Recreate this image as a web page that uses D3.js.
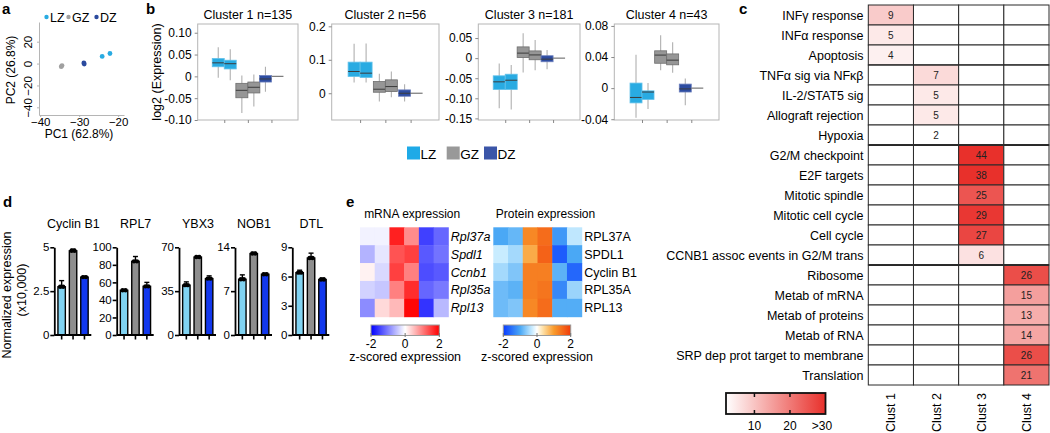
<!DOCTYPE html>
<html><head><meta charset="utf-8">
<script src="https://cdn.jsdelivr.net/npm/d3@7"></script>
<style>body{margin:0;background:#fff}svg{display:block;font-family:"Liberation Sans",Arial,sans-serif}</style>
</head><body><svg id="fig" width="1050" height="433"></svg>
<script>
// ---------------- DATA ----------------
// panel a (PCA)
const pcaZone = ["LZ","LZ","GZ","GZ","DZ","DZ"];
const pcaPC1 = [-24.1,-22.1,-34.6,-34.4,-28.8,-28.7];
const pcaPC2 = [6.5,9.2,-2.8,-1.8,0.6,-0.4];
const pcaXTicks = [-40,-30,-20];
const pcaYTicks = [-40,-20,0,20];

// panel b (box plots) -- [min,q1,median,q3,max] for LZ1,LZ2,GZ1,GZ2,DZ1,DZ2
const zones = ["LZ","GZ","DZ"];
const clusterTitles = ["Cluster 1 n=135","Cluster 2 n=56","Cluster 3 n=181","Cluster 4 n=43"];
const cluster1Boxes = [[-0.003,0.022,0.031,0.041,0.067],[-0.009,0.017,0.029,0.037,0.062],[-0.084,-0.049,-0.032,-0.016,0.002],[-0.069,-0.038,-0.025,-0.013,0.004],[-0.035,-0.013,-0.006,0.002,0.022],[0,0,0,0,0]];
const cluster2Boxes = [[0.032,0.050,0.065,0.093,0.148],[0.032,0.047,0.060,0.093,0.149],[-0.025,0.003,0.012,0.035,0.058],[-0.012,0.005,0.020,0.040,0.065],[-0.025,-0.009,0.0,0.010,0.027],[0,0,0,0,0]];
const cluster3Boxes = [[-0.125,-0.078,-0.059,-0.044,-0.0135],[-0.128,-0.078,-0.055,-0.040,-0.017],[-0.036,0.0015,0.0125,0.028,0.062],[-0.030,-0.004,0.008,0.018,0.045],[-0.0275,-0.009,-0.0025,0.006,0.020],[0,0,0,0,0]];
const cluster4Boxes = [[-0.038,-0.019,-0.012,0.0065,0.043],[-0.027,-0.0145,-0.005,-0.0035,0.0065],[0.023,0.032,0.0425,0.048,0.068],[0.0197,0.030,0.036,0.044,0.059],[-0.022,-0.005,-0.001,0.0052,0.0123],[0,0,0,0,0]];
const clusterDomains = [[-0.10,0.12],[-0.08,0.207],[-0.154,0.085],[-0.041,0.0825]];
const clusterTicks = [[-0.10,-0.05,0,0.05,0.10],[0,0.1,0.2],[-0.15,-0.10,-0.05,0,0.05],[-0.04,0,0.04,0.08]];
const clusterTickLabels = [["-0.10","-0.05","0","0.05","0.10"],["0","0.1","0.2"],["-0.15","-0.10","-0.05","0","0.05"],["-0.04","0","0.04","0.08"]];

// panel c (enrichment heatmap)
const pathways = ["INF\u03b3 response","INF\u03b1 response","Apoptosis","TNF\u03b1 sig via NF\u03ba\u03b2","IL-2/STAT5 sig","Allograft rejection","Hypoxia","G2/M checkpoint","E2F targets","Mitotic spindle","Mitotic cell cycle","Cell cycle","CCNB1 assoc events in G2/M trans","Ribosome","Metab of mRNA","Metab of proteins","Metab of RNA","SRP dep prot target to membrane","Translation"];
const pathwayCluster = [1,1,1,2,2,2,2,3,3,3,3,3,3,4,4,4,4,4,4];
const pathwayCount = [9,5,4,7,5,5,2,44,38,25,29,27,6,26,15,13,14,26,21];
const clustLabels = ["Clust 1","Clust 2","Clust 3","Clust 4"];
const countTicks = [10,20,30];
const countTickLabels = ["10","20",">30"];

// panel d (bar charts)
const genes = ["Cyclin B1","RPL7","YBX3","NOB1","DTL"];
const geneTicks = [[0,2.5,5],[0,20,40,60,80,100],[0,35,70],[0,7,14],[0,3,6,9]];
const lzMean = [2.75,51,39.8,8.9,6.4];
const gzMean = [4.8,84,62.2,13.0,7.9];
const dzMean = [3.3,55.5,45,9.7,5.7];
const lzErr = [0.35,0.8,2.6,0.7,0.25];
const gzErr = [0.1,5.5,0.6,0.2,0.5];
const dzErr = [0.05,4.5,2.2,0.15,0.15];

// panel e (z-score heatmaps)
const mrnaGenes = ["Rpl37a","Spdl1","Ccnb1","Rpl35a","Rpl13"];
const mrnaZ = [[-0.1,-0.1,1.75,0.9,-1.5,-1.2],[-0.6,-0.2,1.35,1.5,-1.3,-1.1],[0.1,-0.3,1.5,1.0,-1.4,-1.3],[-0.35,-0.45,1.0,1.65,-1.2,-1.05],[-0.9,0.3,0.55,1.95,-1.6,-0.55]];
const proteinGenes = ["RPL37A","SPDL1","Cyclin B1","RPL35A","RPL13"];
const proteinZ = [[-1.0,-0.85,1.2,1.5,-1.15,-0.35],[-0.3,-0.5,0.85,1.6,-1.7,-1.0],[-0.5,-0.7,1.3,1.3,-0.9,-1.6],[-0.8,-0.9,1.3,1.4,-1.3,-0.55],[-0.8,-0.7,1.2,1.5,-0.95,-0.95]];
const zTicks = [-2,0,2];

// ---------------- DRAW ----------------
const svg = d3.select("#fig");
const FONT = 12.5;
function panelLabel(t,x,y){svg.append("text").attr("x",x).attr("y",y).attr("font-weight","bold").attr("font-size",15).text(t);}

// ===== a =====
panelLabel("a",2,14);
const zoneColA = {LZ:"#29abe2",GZ:"#a0a0a0",DZ:"#2b4a9e"};
{
  const x = d3.scaleLinear().domain([-40.3,-18.5]).range([39,124]);
  const y = d3.scaleLinear().domain([-47,38]).range([115,22]);
  const gx = svg.append("g").attr("transform","translate(0,115)").call(d3.axisBottom(x).tickValues(pcaXTicks).tickSize(2).tickPadding(1).tickSizeOuter(0));
  const gy = svg.append("g").attr("transform","translate(39,0)").call(d3.axisLeft(y).tickValues(pcaYTicks).tickSize(2).tickSizeOuter(0));
  [gx,gy].forEach(g=>{g.selectAll("path,line").attr("stroke","#b5b5b5");g.selectAll("text").attr("font-size",11.5).attr("font-family","Liberation Sans, Arial").attr("fill","#000");});
  gy.selectAll(".tick text").attr("x",0).attr("y",-7).attr("dy","0").attr("text-anchor","middle").attr("transform","rotate(-90)");
  svg.append("g").selectAll("circle").data(pcaZone).join("circle")
    .attr("cx",(d,i)=>x(pcaPC1[i])).attr("cy",(d,i)=>y(pcaPC2[i])).attr("r",2.4).attr("fill",d=>zoneColA[d]);
  svg.append("text").attr("transform","translate(15,70) rotate(-90)").attr("text-anchor","middle").attr("font-size",12).text("PC2 (26.8%)");
  svg.append("text").attr("x",79).attr("y",138).attr("text-anchor","middle").attr("font-size",12).text("PC1 (62.8%)");
  const leg = [["LZ",46.5],["GZ",68.5],["DZ",96.5]];
  leg.forEach(([z,lx])=>{
    svg.append("circle").attr("cx",lx).attr("cy",17).attr("r",2.2).attr("fill",zoneColA[z]);
    svg.append("text").attr("x",lx+3.5).attr("y",22).attr("font-size",FONT).text(z);
  });
}

// ===== b =====
panelLabel("b",146,14);
const boxFill = {LZ:"#29abe2",GZ:"#969696",DZ:"#2d4ca0"};
const boxStroke = {LZ:"#62c1ea",GZ:"#6e6e6e",DZ:"#6c7fbd"};
const allBoxes = [cluster1Boxes,cluster2Boxes,cluster3Boxes,cluster4Boxes];
const frames = [[197.7,298],[331.7,439],[478.3,580],[614.3,719]];
const fTop = 24, fBot = 120;
allBoxes.forEach((boxes,ci)=>{
  const [x0,x1] = frames[ci];
  const y = d3.scaleLinear().domain(clusterDomains[ci]).range([fBot,fTop]);
  const bx = d3.scalePoint().domain(zones).range([x0,x1]).padding(1.125);
  const g = svg.append("g");
  g.append("rect").attr("x",x0).attr("y",fTop).attr("width",x1-x0).attr("height",fBot-fTop).attr("fill","none").attr("stroke","#b5b5b5");
  const ay = g.append("g").attr("transform",`translate(${x0},0)`).call(d3.axisLeft(y).tickValues(clusterTicks[ci]).tickFormat((d,i)=>clusterTickLabels[ci][i]).tickSize(3).tickSizeOuter(0));
  ay.select(".domain").remove();
  ay.selectAll("line").attr("stroke","#888");
  ay.selectAll("text").attr("font-size",12).attr("font-family","Liberation Sans, Arial").attr("fill","#000").attr("x",-6);
  const ax = g.append("g").attr("transform",`translate(0,${fBot})`).call(d3.axisBottom(bx).tickSize(3).tickFormat(""));
  ax.select(".domain").remove(); ax.selectAll("line").attr("stroke","#888");
  const bw = 12;
  boxes.forEach((b,i)=>{
    const z = zones[Math.floor(i/2)], side = i%2;
    const left = bx(z) - bw + side*bw, cx = left+bw/2;
    if (b[4]===b[0]) {
      g.append("line").attr("x1",left).attr("x2",left+bw).attr("y1",y(b[2])).attr("y2",y(b[2])).attr("stroke","#777").attr("stroke-width",1.2);
      return;
    }
    g.append("line").attr("x1",cx).attr("x2",cx).attr("y1",y(b[0])).attr("y2",y(b[4])).attr("stroke","#b0b0b0").attr("stroke-width",1.1);
    g.append("rect").attr("x",left).attr("y",y(b[3])).attr("width",bw).attr("height",y(b[1])-y(b[3])).attr("fill",boxFill[z]).attr("stroke",boxStroke[z]).attr("stroke-width",0.8);
    g.append("line").attr("x1",left).attr("x2",left+bw).attr("y1",y(b[2])).attr("y2",y(b[2])).attr("stroke","#3c3c3c").attr("stroke-width",1);
  });
  svg.append("text").attr("x",(x0+x1)/2).attr("y",19).attr("text-anchor","middle").attr("font-size",FONT).text(clusterTitles[ci]);
});
svg.append("text").attr("transform","translate(161,72) rotate(-90)").attr("text-anchor","middle").attr("font-size",FONT).text("log2 (Expression)");
[["LZ",407],["GZ",446.7],["DZ",484]].forEach(([z,lx])=>{
  svg.append("rect").attr("x",lx).attr("y",146.5).attr("width",13).attr("height",13).attr("fill",z==="LZ"?"#1eaae7":z==="GZ"?"#999":"#3b55a8");
  svg.append("text").attr("x",lx+13.5).attr("y",158.5).attr("font-size",13.5).text(z);
});

// ===== c =====
panelLabel("c",739,14);
{
  const x = d3.scaleBand().domain([1,2,3,4]).range([868.3,1049]);
  const y = d3.scaleBand().domain(d3.range(pathways.length)).range([5,385]);
  const col = d3.scaleLinear().domain([2,30]).range(["#ffffff","#e8302b"]).clamp(true);
  const g = svg.append("g");
  pathways.forEach((p,r)=>{
    [1,2,3,4].forEach(c=>{
      const v = pathwayCluster[r]===c ? pathwayCount[r] : null;
      g.append("rect").attr("x",x(c)).attr("y",y(r)).attr("width",x.bandwidth()).attr("height",y.bandwidth())
        .attr("fill",v===null?"#fff":col(v)).attr("stroke","#2a2a2a").attr("stroke-width",1);
      if(v!==null) g.append("text").attr("x",x(c)+x.bandwidth()/2).attr("y",y(r)+y.bandwidth()/2).attr("dy","0.35em").attr("text-anchor","middle").attr("font-size",10).attr("fill","#222").text(v);
    });
    svg.append("text").attr("x",863.5).attr("y",y(r)+y.bandwidth()/2).attr("dy","0.36em").attr("text-anchor","end").attr("font-size",FONT).text(p);
  });
  [7,13,3].forEach(r=>{
    g.append("line").attr("x1",868.3).attr("x2",1049).attr("y1",y(r)).attr("y2",y(r)).attr("stroke","#2a2a2a").attr("stroke-width",r===3?1.2:1.8);
  });
  clustLabels.forEach((t,i)=>{
    svg.append("text").attr("transform",`translate(${x(i+1)+x.bandwidth()/2},393) rotate(-90)`).attr("text-anchor","end").attr("dy","0.36em").attr("font-size",FONT).text(t);
  });
  // colour bar
  const defs = svg.append("defs");
  const lg = defs.append("linearGradient").attr("id","gradC");
  lg.append("stop").attr("offset","0%").attr("stop-color","#ffffff");
  lg.append("stop").attr("offset","100%").attr("stop-color","#e8302b");
  const cx = d3.scaleLinear().domain([2,30]).range([726,825.5]);
  svg.append("rect").attr("x",726).attr("y",393).attr("width",99.5).attr("height",21).attr("fill","url(#gradC)").attr("stroke","#111").attr("stroke-width",1.8);
  countTicks.forEach((t,i)=>{
    if(t<30){
      svg.append("line").attr("x1",cx(t)).attr("x2",cx(t)).attr("y1",393).attr("y2",397).attr("stroke","#111").attr("stroke-width",1.5);
      svg.append("line").attr("x1",cx(t)).attr("x2",cx(t)).attr("y1",410).attr("y2",414).attr("stroke","#111").attr("stroke-width",1.5);
    }
    svg.append("text").attr("x",t<30?cx(t):822).attr("y",429.5).attr("text-anchor","middle").attr("font-size",12).text(countTickLabels[i]);
  });
}

// ===== d =====
panelLabel("d",3,207);
{
  const axX = [54.3,116.7,179,235,292.3];
  const barCol = {LZ:"#80d3f2",GZ:"#8e8e8e",DZ:"#1238ee"};
  const means = [lzMean,gzMean,dzMean], errs = [lzErr,gzErr,dzErr];
  genes.forEach((gname,gi)=>{
    const ax0 = axX[gi];
    const ticks = geneTicks[gi];
    const y = d3.scaleLinear().domain([0,ticks[ticks.length-1]]).range([335,247.3]);
    const x = d3.scaleBand().domain(zones).range([ax0+2.5,ax0+35]).paddingInner(0.35).paddingOuter(0.1);
    const g = svg.append("g");
    zones.forEach((z,zi)=>{
      const m = means[zi][gi], e = errs[zi][gi];
      const bx = x(z), cxm = bx + x.bandwidth()/2;
      g.append("rect").attr("x",bx).attr("y",y(m)).attr("width",x.bandwidth()).attr("height",335-y(m)).attr("fill",barCol[z]).attr("stroke","#000").attr("stroke-width",1.4);
      g.append("line").attr("x1",cxm).attr("x2",cxm).attr("y1",y(m)).attr("y2",y(m+e)).attr("stroke","#000").attr("stroke-width",1.4);
      g.append("line").attr("x1",cxm-2.5).attr("x2",cxm+2.5).attr("y1",y(m+e)).attr("y2",y(m+e)).attr("stroke","#000").attr("stroke-width",1.4);
      g.append("circle").attr("cx",cxm-1.5).attr("cy",y(m)).attr("r",2.2).attr("fill","#000");
      g.append("circle").attr("cx",cxm+1.5).attr("cy",y(m)).attr("r",2.2).attr("fill","#000");
      g.append("line").attr("x1",cxm).attr("x2",cxm).attr("y1",335).attr("y2",339.5).attr("stroke","#000").attr("stroke-width",1.6);
    });
    g.append("line").attr("x1",ax0).attr("x2",ax0+37).attr("y1",335).attr("y2",335).attr("stroke","#000").attr("stroke-width",1.8);
    const ay = g.append("g").attr("transform",`translate(${ax0},0)`).call(d3.axisLeft(y).tickValues(ticks).tickFormat(d3.format("~g")).tickSize(4).tickSizeOuter(0));
    ay.select(".domain").attr("stroke","#000").attr("stroke-width",1.8);
    ay.selectAll("line").attr("stroke","#000").attr("stroke-width",1.6);
    ay.selectAll("text").attr("font-size",11.5).attr("font-family","Liberation Sans, Arial").attr("fill","#000").attr("x",-5);
    svg.append("text").attr("x",ax0+19).attr("y",228).attr("text-anchor","middle").attr("font-size",FONT).text(gname);
  });
  svg.append("text").attr("transform","translate(11,295) rotate(-90)").attr("text-anchor","middle").attr("font-size",FONT).text("Normalized expression");
  svg.append("text").attr("transform","translate(26,290) rotate(-90)").attr("text-anchor","middle").attr("font-size",FONT).text("(x10,000)");
}

// ===== e =====
panelLabel("e",346,207);
{
  const mrnaCol = d3.scaleLinear().domain([-2,0,2]).range(["#0000ff","#ffffff","#ff0000"]).clamp(true);
  const protCol = d3.scaleLinear().domain([-2,-1,-0.3,0,0.3,1,2]).range(["#0a3cff","#4aa8f5","#c8ecff","#ffffff","#ffe6b0","#f99b2c","#f03c0a"]).clamp(true);
  const y = d3.scaleBand().domain(d3.range(5)).range([227.3,316.7]);
  function heat(data,labels,x0,x1,col,italic,title,cbX0,cbX1,gid){
    const x = d3.scaleBand().domain(d3.range(6)).range([x0,x1]);
    const g = svg.append("g");
    data.forEach((row,r)=>row.forEach((v,c)=>{
      g.append("rect").attr("x",x(c)).attr("y",y(r)).attr("width",x.bandwidth()+0.5).attr("height",y.bandwidth()+0.5).attr("fill",col(v));
    }));
    labels.forEach((l,r)=>{
      svg.append("text").attr("x",x1+2.5).attr("y",y(r)+y.bandwidth()/2).attr("dy","0.36em").attr("font-size",FONT).attr("font-style",italic?"italic":"normal").text(l);
    });
    svg.append("text").attr("x",(x0+x1)/2+8).attr("y",218).attr("text-anchor","middle").attr("font-size",12).text(title);
    const lg = svg.append("defs").append("linearGradient").attr("id",gid);
    d3.range(0,1.0001,0.05).forEach(t=>lg.append("stop").attr("offset",(t*100)+"%").attr("stop-color",col(-2+4*t)));
    svg.append("rect").attr("x",cbX0).attr("y",325).attr("width",cbX1-cbX0).attr("height",10.5).attr("fill",`url(#${gid})`).attr("stroke","#9a9a9a").attr("stroke-width",1);
    const cs = d3.scaleLinear().domain([-2,2]).range([cbX0,cbX1]);
    zTicks.forEach(t=>{
      svg.append("line").attr("x1",cs(t)).attr("x2",cs(t)).attr("y1",333).attr("y2",337).attr("stroke","#777");
      svg.append("text").attr("x",cs(t)).attr("y",348).attr("text-anchor","middle").attr("font-size",12).text(t);
    });
    svg.append("text").attr("x",(cbX0+cbX1)/2).attr("y",361).attr("text-anchor","middle").attr("font-size",FONT).text("z-scored expression");
  }
  heat(mrnaZ,mrnaGenes,360,448.3,mrnaCol,true,"mRNA expression",371,439.3,"gm");
  heat(proteinZ,proteinGenes,493.3,581.7,protCol,false,"Protein expression",503.3,570.7,"gp");
}
</script></body></html>
